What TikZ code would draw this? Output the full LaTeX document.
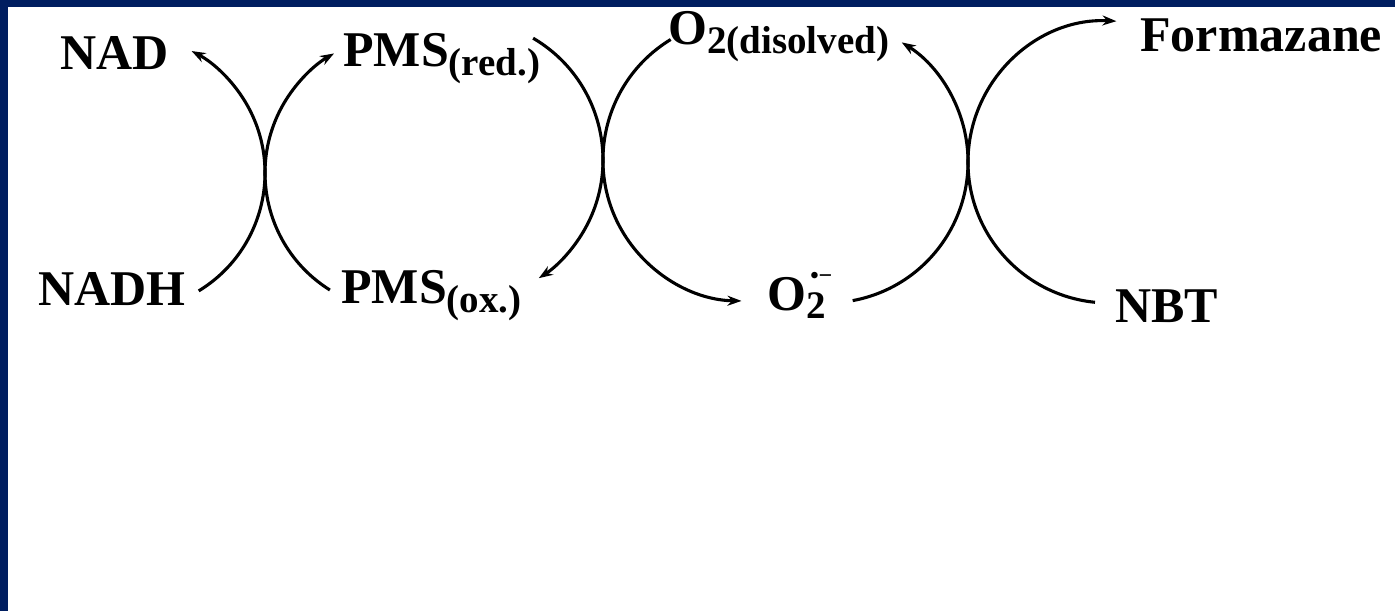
\documentclass[tikz,border=0pt]{standalone}
\usepackage{fontspec}
\setmainfont{Liberation Serif}
\usetikzlibrary{arrows.meta}
\definecolor{navy}{RGB}{0,30,96}
\newcommand\mysub[1]{{\fontsize{19.5pt}{20pt}\selectfont\raisebox{-4.5pt}{#1}}}
\newcommand\mysup[1]{\makebox[0pt][l]{\kern2pt\fontsize{12pt}{12pt}\selectfont\raisebox{13pt}{#1}}}
\begin{document}
\begin{tikzpicture}[x=0.5pt,y=0.5pt,
  lbl/.style={anchor=base west, inner sep=0pt, font=\fontsize{25pt}{30pt}\selectfont\bfseries},
  rxn/.style={line width=1.55pt, -{Stealth[length=7pt,width=5pt]}}]
\useasboundingbox (0,0) rectangle (1395,611);
\fill[white] (0,0) rectangle (1395,611);
\fill[navy] (0,603.5) rectangle (1395,611);
\fill[navy] (0,0) rectangle (7.5,611);

% labels
\node[lbl] (NAD)   at (60,541)   {NAD};
\node[lbl] (NADH)  at (38,306)   {NADH};
\node[lbl] (PMSr)  at (343,544)  {PMS\mysub{(red.)}};
\node[lbl] (PMSo)  at (341,307)  {PMS\mysub{(ox.)}};
\node[lbl] (O2d)   at (668,566)  {O\mysub{2(disolved)}};
\node[lbl] (O2m)   at (767,301)  {O\mysup{•−}\mysub{2}};
\node[lbl] (Form)  at (1140,559) {Formazane};
\node[lbl] (NBT)   at (1115,289) {NBT};

% arc start points
\coordinate (s1) at (198.7,320.1);
\coordinate (s2) at (329.9,321.0);
\coordinate (s3) at (533.1,572.8);
\coordinate (s4) at (670.7,571.5);
\coordinate (s5) at (852.7,310.4);
\coordinate (s6) at (1095.0,308.7);

% NADH -> NAD
\draw[rxn] (s1) arc[start angle=-58.7, end angle=62.1, radius=138];
% PMS(ox.) -> PMS(red.)
\draw[rxn] (s2) arc[start angle=238, end angle=120, radius=138];
% PMS(red.) -> PMS(ox.)
\draw[rxn] (s3) arc[start angle=59.7, end angle=-57, radius=141];
% O2(disolved) -> O2.-
\draw[rxn] (s4) arc[start angle=121.3, end angle=269, radius=141];
% O2.- -> O2(disolved)
\draw[rxn] (s5) arc[start angle=-79.5, end angle=58, radius=141];
% NBT -> Formazane
\draw[rxn] (s6) arc[start angle=264.3, end angle=87, radius=141];
\end{tikzpicture}
\end{document}
